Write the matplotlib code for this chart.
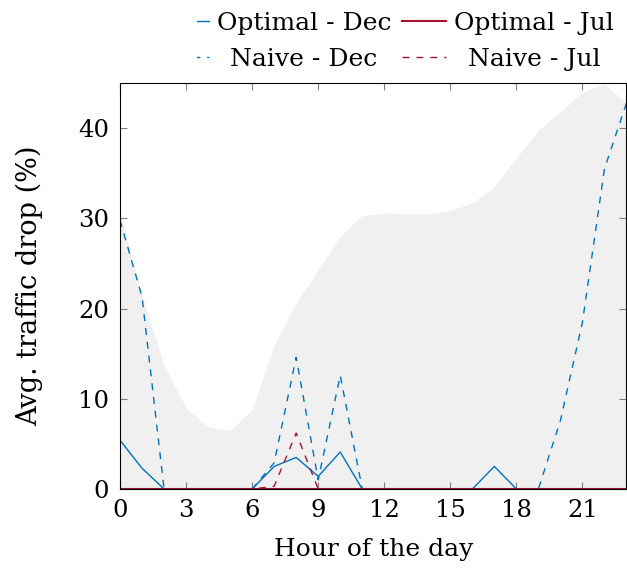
import matplotlib
matplotlib.use("Agg")
import matplotlib.pyplot as plt
from matplotlib.transforms import Bbox
import numpy as np

plt.rcParams["font.family"] = "DejaVu Serif"

hours = np.arange(24)

# upper envelope of the shaded band
band_top = [30.6, 21.5, 13.7, 9.0, 6.9, 6.5, 8.8, 16.0, 20.6, 24.3, 28.0, 30.3,
            30.6, 30.5, 30.5, 30.9, 31.7, 33.5, 36.7, 39.8, 41.8, 44.0, 44.9, 42.8]

optimal_dec = [5.4, 2.3, 0, 0, 0, 0, 0, 2.5, 3.5, 1.4, 4.1, 0,
               0, 0, 0, 0, 0, 2.5, 0, 0, 0, 0, 0, 0]
optimal_jul = [0] * 24
naive_dec = [29.8, 21.3, 0, 0, 0, 0, 0, 2.9, 14.6, 1.0, 12.6, 0,
             0, 0, 0, 0, 0, 0, 0, 0, 7.6, 18.5, 35.5, 42.8]
naive_jul = [0, 0, 0, 0, 0, 0, 0, 0.3, 6.2, 0, 0, 0,
             0, 0, 0, 0, 0, 0, 0, 0, 0, 0, 0, 0]

BLUE = "#0072BD"
RED = "#A2142F"
DASH = (0, (5, 5))

fig = plt.figure(figsize=(6.27, 5.69), dpi=100)
ax = fig.add_axes([0.1914, 0.1406, 0.8078, 0.7134])

ax.fill_between(hours, 0, band_top, color="#f0f0f0", linewidth=0)

ax.plot(hours, optimal_dec, color=BLUE, lw=1.0, label="Optimal - Dec")
ax.plot(hours, naive_dec, color=BLUE, lw=1.0, ls=DASH, label="Naive - Dec")
ax.plot(hours, optimal_jul, color=RED, lw=1.5, label="Optimal - Jul")
ax.plot(hours, naive_jul, color=RED, lw=1.0, ls=DASH, label="Naive - Jul")

ax.set_xlim(0, 23)
ax.set_ylim(0, 45)
ax.set_xticks(np.arange(0, 23, 3))
ax.set_yticks([0, 10, 20, 30, 40])
ax.tick_params(direction="in", length=5, color="#808080", labelsize=17.5,
               top=True, right=True)
ax.tick_params(axis="x", pad=7)
ax.tick_params(axis="y", pad=8)
for sp in ax.spines.values():
    sp.set_linewidth(0.8)

ax.set_xlabel("Hour of the day", fontsize=18, labelpad=12)
ax.set_ylabel("Avg. traffic drop (%)", fontsize=19.5, labelpad=25)

leg = ax.legend(ncol=2, loc="lower right", bbox_to_anchor=(1.0, 1.0),
                frameon=False, fontsize=18, handlelength=1.76,
                handletextpad=0.32, columnspacing=0.44, labelspacing=0.5,
                borderaxespad=0.1)

# first column handles are cut off on the left
for ln in leg.get_lines()[:2]:
    ln.set_clip_box(Bbox.from_extents(197, 0, 627, 569))
    ln.set_clip_on(True)

# centre the second-row labels under the first-row ones
fig.canvas.draw()
r = fig.canvas.get_renderer()
texts = leg.get_texts()
for top, bottom in [(0, 1), (2, 3)]:
    w_top = texts[top].get_window_extent(r).width
    w_bot = texts[bottom].get_window_extent(r).width
    texts[bottom].set_x((w_top - w_bot) / 2)

fig.savefig("out.png", dpi=100)
